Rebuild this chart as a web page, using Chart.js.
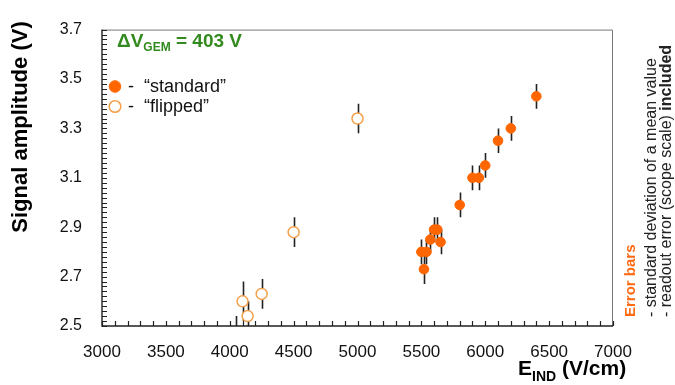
<!DOCTYPE html>
<html>
<head>
<meta charset="utf-8">
<script src="https://cdn.jsdelivr.net/npm/chart.js@4.4.1/dist/chart.umd.min.js"></script>
<style>
  html, body { margin: 0; padding: 0; background: #fff; }
  #wrap { width: 675px; height: 385px; }
</style>
</head>
<body>
<div id="wrap"><canvas id="amp" width="675" height="385"></canvas></div>
<script>
// Induction field scan, signal amplitude per point
const stdField = [5500, 5520, 5540, 5570, 5600, 5625, 5650, 5800, 5900, 5950, 6000, 6100, 6200, 6400];
const stdAmp   = [2.80, 2.73, 2.80, 2.85, 2.89, 2.89, 2.84, 2.99, 3.10, 3.10, 3.15, 3.25, 3.30, 3.43];
const stdErr   = [0.05, 0.06, 0.05, 0.05, 0.05, 0.05, 0.05, 0.05, 0.05, 0.05, 0.05, 0.05, 0.05, 0.05];

const flipField = [4050, 4100, 4140, 4250, 4500, 5000];
const flipAmp   = [2.47, 2.60, 2.54, 2.63, 2.88, 3.34];
const flipErr   = [0.07, 0.08, 0.06, 0.06, 0.06, 0.06];

const xTickLabels = ['3000', '3500', '4000', '4500', '5000', '5500', '6000', '6500', '7000'];
const yTickLabels = ['2.5', '2.7', '2.9', '3.1', '3.3', '3.5', '3.7'];

const FONT = "'Liberation Sans', Arial, sans-serif";
const ORANGE = '#ff6600';
const LIGHT_ORANGE = '#f5a04b';

function toPoints(xs, ys, errs) {
    return xs.map((x, i) => ({ x: x, y: ys[i], err: errs[i] }));
}

// error bars under the markers
const errorBars = {
    id: 'errorBars',
    beforeDatasetsDraw(chart) {
        const ctx = chart.ctx;
        const area = chart.chartArea;
        const xs = chart.scales.x, ys = chart.scales.y;
        ctx.save();
        ctx.beginPath();
        ctx.rect(area.left, area.top, area.right - area.left, area.bottom - area.top);
        ctx.clip();
        ctx.strokeStyle = '#222';
        ctx.lineWidth = 1.6;
        chart.data.datasets.forEach(ds => {
            ds.data.forEach(p => {
                const px = Math.round(xs.getPixelForValue(p.x)) + 0.5;
                ctx.beginPath();
                ctx.moveTo(px, ys.getPixelForValue(p.y - p.err));
                ctx.lineTo(px, ys.getPixelForValue(p.y + p.err));
                ctx.stroke();
            });
        });
        ctx.restore();
    }
};

// frame, inward ticks, titles, legend and notes
const decorations = {
    id: 'decorations',
    afterDraw(chart) {
        const ctx = chart.ctx;
        const a = chart.chartArea;
        const xs = chart.scales.x, ys = chart.scales.y;
        ctx.save();

        // top and right border
        ctx.strokeStyle = '#777';
        ctx.lineWidth = 1;
        ctx.beginPath();
        ctx.moveTo(a.left, a.top + 0.5);
        ctx.lineTo(a.right - 0.5, a.top + 0.5);
        ctx.lineTo(a.right - 0.5, a.bottom);
        ctx.stroke();

        // axis lines
        ctx.strokeStyle = '#222';
        ctx.lineWidth = 1.4;
        ctx.beginPath();
        ctx.moveTo(a.left, a.top);
        ctx.lineTo(a.left, a.bottom);
        ctx.lineTo(a.right, a.bottom);
        ctx.stroke();

        // ticks pointing inward
        ctx.lineWidth = 1.2;
        ctx.beginPath();
        ys.ticks.forEach(t => {
            const py = Math.round(ys.getPixelForValue(t.value)) + 0.5;
            ctx.moveTo(a.left, py);
            ctx.lineTo(a.left + 5, py);
        });
        xs.ticks.forEach(t => {
            const px = Math.round(xs.getPixelForValue(t.value)) + 0.5;
            ctx.moveTo(px, a.bottom);
            ctx.lineTo(px, a.bottom - 5);
        });
        ctx.stroke();

        // y title
        ctx.fillStyle = '#000';
        ctx.font = 'bold 22px ' + FONT;
        ctx.save();
        ctx.translate(27, 127);
        ctx.rotate(-Math.PI / 2);
        ctx.textAlign = 'center';
        ctx.textBaseline = 'alphabetic';
        ctx.fillText('Signal amplitude (V)', 0, 0);
        ctx.restore();

        // x title: E_IND (V/cm)
        ctx.textAlign = 'left';
        ctx.textBaseline = 'alphabetic';
        let xt = 518;
        ctx.font = 'bold 21px ' + FONT;
        ctx.fillText('E', xt, 375);
        xt += ctx.measureText('E').width;
        ctx.font = 'bold 14px ' + FONT;
        ctx.fillText('IND', xt, 381);
        xt += ctx.measureText('IND').width;
        ctx.font = 'bold 21px ' + FONT;
        ctx.fillText(' (V/cm)', xt, 375);

        // ΔV_GEM = 403 V
        ctx.fillStyle = '#338a1f';
        let xg = 117;
        ctx.font = 'bold 19px ' + FONT;
        ctx.fillText('\u0394V', xg, 47);
        xg += ctx.measureText('\u0394V').width;
        ctx.font = 'bold 12px ' + FONT;
        ctx.fillText('GEM', xg, 51);
        xg += ctx.measureText('GEM').width;
        ctx.font = 'bold 19px ' + FONT;
        ctx.fillText(' = 403 V', xg, 47);

        // legend
        const rows = [86.5, 106.5];
        chart.data.datasets.forEach((ds, i) => {
            const cy = rows[i];
            ctx.beginPath();
            ctx.arc(115, cy, 5.8, 0, Math.PI * 2);
            ctx.fillStyle = ds.pointBackgroundColor;
            ctx.fill();
            ctx.lineWidth = ds.pointBorderWidth;
            ctx.strokeStyle = ds.pointBorderColor;
            ctx.stroke();
            ctx.fillStyle = '#111';
            ctx.font = '18px ' + FONT;
            ctx.fillText('-  \u201c' + ds.label + '\u201d', 128, cy + 5);
        });

        // error bar notes, rotated
        ctx.save();
        ctx.translate(635, 317);
        ctx.rotate(-Math.PI / 2);
        ctx.textAlign = 'left';
        ctx.fillStyle = '#ff6a13';
        ctx.font = 'bold 15px ' + FONT;
        ctx.fillText('Error bars', 0, 0);
        ctx.fillStyle = '#222';
        ctx.font = '16px ' + FONT;
        ctx.fillText('- standard deviation of a mean value', 0, 21);
        const part = '- readout error (scope scale) ';
        ctx.fillText(part, 0, 36);
        const w = ctx.measureText(part).width;
        ctx.font = 'bold 16px ' + FONT;
        ctx.fillText('included', w, 36);
        ctx.restore();

        ctx.restore();
    }
};

new Chart(document.getElementById('amp'), {
    type: 'scatter',
    data: {
        datasets: [
            {
                label: 'standard',
                data: toPoints(stdField, stdAmp, stdErr),
                pointBackgroundColor: ORANGE,
                pointBorderColor: ORANGE,
                pointBorderWidth: 1,
                pointRadius: 4.8,
                clip: 0
            },
            {
                label: 'flipped',
                data: toPoints(flipField, flipAmp, flipErr),
                pointBackgroundColor: '#fff',
                pointBorderColor: LIGHT_ORANGE,
                pointBorderWidth: 1.5,
                pointRadius: 5.5,
                clip: 0
            }
        ]
    },
    options: {
        responsive: false,
        animation: false,
        devicePixelRatio: 1,
        layout: { padding: { top: 13, right: 62, left: 0, bottom: 0 } },
        plugins: {
            legend: { display: false },
            tooltip: { enabled: false }
        },
        scales: {
            x: {
                type: 'linear',
                min: 3000,
                max: 7000,
                grid: { display: false, drawTicks: false },
                border: { display: false },
                afterFit: s => { s.height = 59; },
                ticks: {
                    stepSize: 100,
                    autoSkip: false,
                    maxRotation: 0,
                    padding: 16,
                    color: '#111',
                    font: { family: FONT, size: 17 },
                    callback: v => xTickLabels.includes(String(v)) ? String(v) : ''
                }
            },
            y: {
                min: 2.5,
                max: 3.7,
                grid: { display: false, drawTicks: false },
                border: { display: false },
                afterFit: s => { s.width = 102; },
                ticks: {
                    stepSize: 0.02,
                    autoSkip: false,
                    padding: 20,
                    color: '#111',
                    font: { family: FONT, size: 16 },
                    callback: v => {
                        const s = v.toFixed(1);
                        return (yTickLabels.includes(s) && Math.abs(v - Number(s)) < 1e-6) ? s : '';
                    }
                }
            }
        }
    },
    plugins: [errorBars, decorations]
});
</script>
</body>
</html>
